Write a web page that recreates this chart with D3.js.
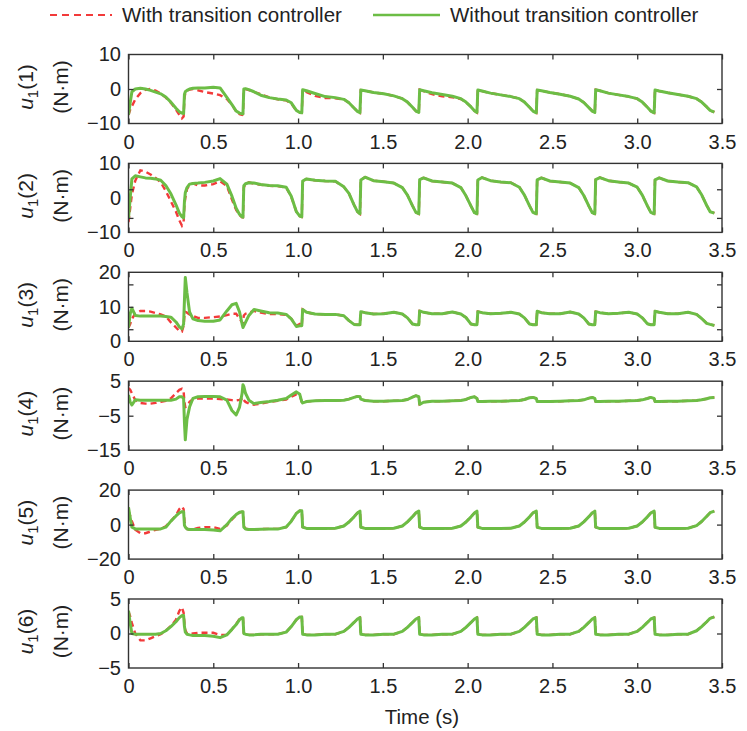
<!DOCTYPE html>
<html>
<head>
<meta charset="utf-8">
<script src="https://cdn.jsdelivr.net/npm/d3@7"></script>
<style>
  body { margin: 0; background: #fff; }
  svg { display: block; }
  text { font-family: "Liberation Sans", Arial, sans-serif; }
</style>
</head>
<body>
<div id="chart"></div>
<script>
// time samples (s), shared by every series
const time = [0, 0.01, 0.02, 0.04, 0.07, 0.10, 0.13, 0.16, 0.19, 0.22,
  0.25, 0.28, 0.30, 0.315, 0.325, 0.33, 0.335, 0.345, 0.36, 0.38,
  0.41, 0.45, 0.50, 0.54, 0.58, 0.61, 0.635, 0.655, 0.67, 0.675,
  0.68, 0.69, 0.71, 0.74, 0.78, 0.83, 0.88, 0.93, 0.96, 0.99,
  1.01,
  1.022, 1.027, 1.05, 1.10, 1.16, 1.22, 1.27, 1.30, 1.33, 1.35,
  1.365, 1.37, 1.395, 1.445, 1.505, 1.565, 1.615, 1.645, 1.675, 1.695,
  1.712, 1.717, 1.74, 1.79, 1.85, 1.91, 1.96, 1.99, 2.02, 2.04,
  2.055, 2.06, 2.085, 2.135, 2.195, 2.255, 2.305, 2.335, 2.365, 2.385,
  2.405, 2.41, 2.435, 2.485, 2.545, 2.605, 2.655, 2.685, 2.715, 2.735,
  2.75, 2.755, 2.78, 2.83, 2.89, 2.95, 3.00, 3.03, 3.06, 3.08,
  3.10, 3.105, 3.13, 3.18, 3.24, 3.30, 3.35, 3.38, 3.41, 3.43,
  3.455];

// u1(1)
const withoutP1 = [-7.5, -4, -0.8, 0, 0.2, 0, -0.4, -0.9, -1.4, -2.3,
  -3.8, -5.6, -6.6, -7, -7.1, -1.5, -0.8, -0.4, 0, 0.2,
  0.3, 0.3, 0.5, 0.3, -2.4, -4.5, -6.4, -7, -7.2, -7.2,
  0, 0.1, -0.2, -0.8, -1.8, -2.5, -2.9, -3.2, -4, -6.2,
  -6.8,
  -6.9, -0.2, -0.5, -1.3, -2.2, -2.5, -3.0, -4.0, -5.5, -6.5,
  -6.9, -0.3, -0.5, -1.0, -1.4, -2.0, -2.8, -3.8, -5.3, -6.4,
  -6.8, -0.2, -0.5, -1.1, -1.6, -2.1, -2.8, -3.8, -5.2, -6.3,
  -6.8, -0.3, -0.6, -1.2, -1.7, -2.2, -2.8, -3.8, -5.3, -6.4,
  -6.9, -0.3, -0.5, -1.0, -1.5, -2.1, -2.9, -3.9, -5.4, -6.4,
  -6.8, -0.2, -0.5, -1.2, -1.7, -2.2, -2.8, -3.8, -5.3, -6.4,
  -6.9, -0.3, -0.6, -1.1, -1.6, -2.1, -2.8, -3.8, -5.2, -6.2,
  -6.7];
const withP1 = [-7.5, -6, -5, -3, -1.2, -0.2, 0, -0.5, -1.3, -2.5,
  -4, -6, -7.5, -8.5, -8, -2.5, -1.3, -0.5, -0.2, 0,
  -0.4, -0.9, -1.3, -1.8, -2.9, -4.6, -6.5, -7.3, -7.5, -7.3,
  -0.5, 0, -0.3, -0.9, -1.5, -2.4, -3, -3.3, -4.2, -6.3,
  -6.8,
  -6.9, -0.3, -0.9, -2.0, -2.6, -2.7, -3.0, -4.0, -5.5, -6.5,
  -6.9, -0.3, -0.5, -1.0, -1.4, -2.0, -2.8, -3.8, -5.3, -6.4,
  -6.8, -0.2, -0.6, -1.5, -2.1, -2.4, -2.9, -3.8, -5.2, -6.3,
  -6.8, -0.3, -0.6, -1.2, -1.7, -2.2, -2.8, -3.8, -5.3, -6.4,
  -6.9, -0.3, -0.5, -1.0, -1.5, -2.1, -2.9, -3.9, -5.4, -6.4,
  -6.8, -0.2, -0.5, -1.2, -1.7, -2.2, -2.8, -3.8, -5.3, -6.4,
  -6.9, -0.3, -0.6, -1.1, -1.6, -2.1, -2.8, -3.8, -5.2, -6.2,
  -6.7];

// u1(2)
const withoutP2 = [-6, 0, 5.5, 6.4, 6.1, 5.8, 5.7, 5.5, 5.1, 3.6,
  1.2, -2, -4.4, -5.4, -5.8, -1, 1.5, 3, 4, 4.2,
  4.3, 4.5, 4.9, 5.6, 4, 0.5, -3, -4.8, -5.5, -5.6,
  3.5, 4.1, 4.4, 4.3, 3.9, 3.6, 3.5, 3.1, 0.5, -4,
  -5.3,
  -5.5, 4.9, 5.5, 5.1, 4.9, 4.8, 3.2, 1.3, -2, -4,
  -4.6, 5.2, 6, 5, 4.7, 4.3, 3, 0.8, -2.3, -4.2,
  -4.6, 5.3, 5.8, 4.9, 4.6, 4.3, 3, 0.6, -2.4, -4.3,
  -4.6, 5.2, 5.9, 5, 4.6, 4.4, 3.1, 0.8, -2.3, -4.2,
  -4.6, 5.2, 5.8, 4.9, 4.6, 4.3, 3, 0.7, -2.4, -4.3,
  -4.6, 5.3, 5.9, 5, 4.6, 4.3, 3.1, 0.8, -2.3, -4.2,
  -4.6, 5.2, 5.8, 4.9, 4.6, 4.4, 3.2, 0.9, -2.2, -4,
  -4.4];
const withP2 = [-7, -3, 1, 5, 8, 7.6, 6.8, 5.8, 4.5, 2,
  -1, -4, -6.5, -8, -7, -2, 0, 2.5, 3.8, 4.2,
  3.6, 3.6, 4, 4.8, 3.5, -0.5, -3.5, -5, -5.6, -5.6,
  3, 4, 4.5, 4.1, 3.8, 3.5, 3.4, 3, 0.3, -4,
  -5.3,
  -5.5, 4.9, 5.5, 5.1, 4.9, 4.8, 3.2, 1.3, -2, -4,
  -4.6, 5.2, 6, 5, 4.7, 4.3, 3, 0.8, -2.3, -4.2,
  -4.6, 5.3, 5.8, 4.9, 4.6, 4.3, 3, 0.6, -2.4, -4.3,
  -4.6, 5.2, 5.9, 5, 4.6, 4.4, 3.1, 0.8, -2.3, -4.2,
  -4.6, 5.2, 5.8, 4.9, 4.6, 4.3, 3, 0.7, -2.4, -4.3,
  -4.6, 5.3, 5.9, 5, 4.6, 4.3, 3.1, 0.8, -2.3, -4.2,
  -4.6, 5.2, 5.8, 4.9, 4.6, 4.4, 3.2, 0.9, -2.2, -4,
  -4.4];

// u1(3)
const withoutP3 = [4, 8, 9.6, 7.5, 7.3, 7.3, 7.3, 7.3, 7.3, 7.2,
  7, 5.6, 4.2, 3.6, 5, 12, 18.5, 14, 8.5, 6.5,
  6, 5.8, 5.8, 6.2, 8.8, 10.6, 11, 8.5, 5, 4,
  4.5, 5.5, 7.5, 9.2, 8.8, 8.3, 8.2, 7.8, 6.5, 4.3,
  4.5,
  4.5, 9.2, 8.4, 7.9, 7.8, 7.8, 7.4, 6, 4.9, 4.8,
  4.8, 8.6, 8.3, 7.9, 8, 8.4, 7.9, 6.8, 5, 4.8,
  4.8, 8.8, 8.4, 8, 8, 8.5, 7.9, 6.9, 5, 4.8,
  4.8, 8.6, 8.3, 8, 8.1, 8.4, 7.9, 6.8, 5, 4.8,
  4.8, 8.7, 8.3, 8, 8, 8.5, 7.9, 6.8, 5, 4.8,
  4.8, 8.6, 8.3, 8, 8.1, 8.4, 7.9, 6.8, 5.1, 4.8,
  4.8, 8.7, 8.4, 8, 8, 8.4, 7.8, 6.6, 5.2, 4.9,
  4.6];
const withP3 = [4, 5, 6.5, 8, 8.8, 8.8, 8.6, 8.2, 7.8, 7.2,
  5.5, 4, 3, 2.8, 4.5, 7.5, 8.5, 8.3, 7.8, 7.3,
  6.8, 6.8, 7, 7.2, 7.6, 8, 8, 6.5, 5.5, 5.2,
  7.5, 8, 8.3, 8.8, 8.3, 7.9, 7.9, 7.7, 6.5, 4.5,
  5,
  4.5, 9.2, 8.4, 7.9, 7.8, 7.8, 7.4, 6, 4.9, 4.8,
  4.8, 8.6, 8.3, 7.9, 8, 8.4, 7.9, 6.8, 5, 4.8,
  4.8, 8.8, 8.4, 8, 8, 8.5, 7.9, 6.9, 5, 4.8,
  4.8, 8.6, 8.3, 8, 8.1, 8.4, 7.9, 6.8, 5, 4.8,
  4.8, 8.7, 8.3, 8, 8, 8.5, 7.9, 6.8, 5, 4.8,
  4.8, 8.6, 8.3, 8, 8.1, 8.4, 7.9, 6.8, 5.1, 4.8,
  4.8, 8.7, 8.4, 8, 8, 8.4, 7.8, 6.6, 5.2, 4.9,
  4.6];

// u1(4)
const withoutP4 = [1, -1, -1.9, -0.4, -0.5, -0.5, -0.5, -0.5, -0.5, -0.5,
  -0.5, -0.2, 0.5, 0.5, 0, -7, -12, -6, -2.5, 0,
  0.5, 0.6, 0.6, 0.5, -0.5, -3.5, -4.8, -2.5, 1.5, 4,
  3.5, 1.5, -0.5, -1.5, -1.2, -0.9, -0.5, 0, 1, 1.9,
  1.2,
  -1.0, -1.3, -0.9, -0.7, -0.6, -0.6, -0.5, -0.2, 0.3, 0.6,
  0.5, -0.2, -0.6, -0.8, -0.8, -0.7, -0.6, -0.3, 0.4, 0.8,
  0.5, -1.7, -1.1, -0.8, -0.8, -0.7, -0.6, -0.3, 0.3, 0.5,
  0, -0.9, -0.9, -0.8, -0.8, -0.7, -0.6, -0.3, 0.2, 0.3,
  0, -0.9, -0.9, -0.9, -0.8, -0.7, -0.6, -0.4, 0.1, 0.3,
  0, -0.9, -0.9, -0.8, -0.8, -0.7, -0.6, -0.4, 0, 0.3,
  0, -0.9, -0.9, -0.8, -0.8, -0.7, -0.6, -0.4, -0.1, 0.2,
  0.3];
const withP4 = [3, 2.5, 1.5, -0.5, -1.3, -1.5, -1.5, -1.3, -1, -0.7,
  0, 1.5, 2.5, 2.8, 2, -1, -2.5, -2.2, -1, -0.2,
  0, 0, 0, -0.2, -0.3, -0.5, -0.6, -0.4, 0, 0.3,
  -0.5, -1, -1.5, -1.8, -1.5, -1, -0.7, -0.3, 0.5, 1.2,
  0.8,
  -1.0, -1.3, -0.9, -0.7, -0.6, -0.6, -0.5, -0.2, 0.3, 0.6,
  0.5, -0.2, -0.6, -0.8, -0.8, -0.7, -0.6, -0.3, 0.4, 0.8,
  0.5, -1.7, -1.1, -0.8, -0.8, -0.7, -0.6, -0.3, 0.3, 0.5,
  0, -0.9, -0.9, -0.8, -0.8, -0.7, -0.6, -0.3, 0.2, 0.3,
  0, -0.9, -0.9, -0.9, -0.8, -0.7, -0.6, -0.4, 0.1, 0.3,
  0, -0.9, -0.9, -0.8, -0.8, -0.7, -0.6, -0.4, 0, 0.3,
  0, -0.9, -0.9, -0.8, -0.8, -0.7, -0.6, -0.4, -0.1, 0.2,
  0.3];

// u1(5)
const withoutP5 = [10, 4, -1.5, -2.5, -2.6, -2.6, -2.6, -2.6, -2.5, -1.5,
  2, 5, 6.8, 7.5, 7.5, -0.5, -1.5, -2.5, -2.8, -2.8,
  -2.8, -2.8, -3.2, -3.6, 0, 3.5, 5.8, 7.2, 7.5, 7.5,
  -1.5, -2.5, -2.8, -2.8, -2.7, -2.6, -2.6, -1.4, 2, 6.5,
  8,
  8, -1.5, -2.2, -2.2, -2.2, -2.1, -0.8, 1.5, 4.5, 6.8,
  7.8, -1.5, -2.2, -2.3, -2.2, -2.1, -0.8, 1.6, 4.6, 6.8,
  7.8, -1.5, -2.3, -2.3, -2.2, -2.1, -0.8, 1.5, 4.5, 6.7,
  7.8, -1.5, -2.2, -2.3, -2.2, -2.1, -0.8, 1.5, 4.5, 6.8,
  7.8, -1.5, -2.2, -2.3, -2.2, -2.1, -0.8, 1.6, 4.6, 6.8,
  7.8, -1.5, -2.3, -2.3, -2.2, -2.1, -0.8, 1.5, 4.5, 6.7,
  7.8, -1.5, -2.2, -2.3, -2.2, -2.1, -0.6, 1.8, 4.8, 6.9,
  7.8];
const withP5 = [8, 5, 2, -3, -5, -5, -4, -3, -2.5, -1,
  2, 5.5, 9, 10.5, 9, 2, -1, -2.5, -3, -2.8,
  -2, -1.5, -1.5, -2.5, -0.5, 3, 5.5, 7, 7.5, 7.3,
  -1, -2.3, -2.8, -2.8, -2.6, -2.5, -2.5, -1.5, 2, 6.5,
  8,
  8, -1.5, -2.2, -2.2, -2.2, -2.1, -0.8, 1.5, 4.5, 6.8,
  7.8, -1.5, -2.2, -2.3, -2.2, -2.1, -0.8, 1.6, 4.6, 6.8,
  7.8, -1.5, -2.3, -2.3, -2.2, -2.1, -0.8, 1.5, 4.5, 6.7,
  7.8, -1.5, -2.2, -2.3, -2.2, -2.1, -0.8, 1.5, 4.5, 6.8,
  7.8, -1.5, -2.2, -2.3, -2.2, -2.1, -0.8, 1.6, 4.6, 6.8,
  7.8, -1.5, -2.3, -2.3, -2.2, -2.1, -0.8, 1.5, 4.5, 6.7,
  7.8, -1.5, -2.2, -2.3, -2.2, -2.1, -0.6, 1.8, 4.8, 6.9,
  7.8];

// u1(6)
const withoutP6 = [3.3, 1.5, 0, -0.1, -0.1, -0.1, -0.1, -0.1, 0, 0.4,
  1, 1.7, 2.3, 2.6, 2.6, 1, 0.2, -0.1, -0.2, -0.3,
  -0.3, -0.3, -0.4, -0.6, -0.2, 0.6, 1.3, 2, 2.3, 2.3,
  0, -0.1, -0.2, -0.2, -0.1, -0.1, -0.1, 0.2, 1, 2,
  2.4,
  2.4, -0.1, -0.2, -0.2, -0.1, -0.1, 0.3, 0.9, 1.6, 2.1,
  2.3, -0.1, -0.2, -0.2, -0.1, -0.1, 0.3, 0.9, 1.6, 2.1,
  2.3, -0.1, -0.2, -0.2, -0.1, -0.1, 0.3, 0.9, 1.6, 2.1,
  2.3, -0.1, -0.2, -0.2, -0.1, -0.1, 0.3, 0.9, 1.6, 2.1,
  2.3, -0.1, -0.2, -0.2, -0.1, -0.1, 0.3, 0.9, 1.6, 2.1,
  2.3, -0.1, -0.2, -0.2, -0.1, -0.1, 0.3, 0.9, 1.6, 2.1,
  2.3, -0.1, -0.2, -0.2, -0.1, -0.1, 0.4, 1.0, 1.7, 2.2,
  2.4];
const withP6 = [3.2, 2.5, 1.5, 0, -1, -1, -0.7, -0.4, -0.1, 0.4,
  1.1, 2, 3.3, 3.8, 3, 1.5, 0.5, 0, -0.1, 0,
  0.1, 0.1, 0.1, -0.2, -0.2, 0.6, 1.4, 2.1, 2.3, 2.3,
  0.1, -0.1, -0.2, -0.2, -0.1, -0.1, -0.1, 0.2, 1, 2,
  2.4,
  2.4, -0.1, -0.2, -0.2, -0.1, -0.1, 0.3, 0.9, 1.6, 2.1,
  2.3, -0.1, -0.2, -0.2, -0.1, -0.1, 0.3, 0.9, 1.6, 2.1,
  2.3, -0.1, -0.2, -0.2, -0.1, -0.1, 0.3, 0.9, 1.6, 2.1,
  2.3, -0.1, -0.2, -0.2, -0.1, -0.1, 0.3, 0.9, 1.6, 2.1,
  2.3, -0.1, -0.2, -0.2, -0.1, -0.1, 0.3, 0.9, 1.6, 2.1,
  2.3, -0.1, -0.2, -0.2, -0.1, -0.1, 0.3, 0.9, 1.6, 2.1,
  2.3, -0.1, -0.2, -0.2, -0.1, -0.1, 0.4, 1.0, 1.7, 2.2,
  2.4];

const panelIndex = ["1", "2", "3", "4", "5", "6"];
const yDomains = [[-10, 10], [-10, 10], [0, 20], [-15, 5], [-20, 20], [-5, 5]];
const yTickLabels = [[-10, 0, 10], [-10, 0, 10], [0, 10, 20], [-15, -5, 5], [-20, 0, 20], [-5, 0, 5]];
const yTickMarks = [[0], [-5.8, 2.5], [3.5, 10, 16.5], [-5], [0], [0]];
const xTicks = [0, 0.5, 1.0, 1.5, 2.0, 2.5, 3.0, 3.5];
const withSeries = [withP1, withP2, withP3, withP4, withP5, withP6];
const withoutSeries = [withoutP1, withoutP2, withoutP3, withoutP4, withoutP5, withoutP6];
const legendLabels = ["With transition controller", "Without transition controller"];

const width = 747, height = 731;
const left = 128.5, right = 722;
const firstTop = 54.5, step = 108.9, panelH = 69;
const red = "#f23a3a", green = "#6cbd45", ink = "#222", frame = "#333";

const svg = d3.select("#chart").append("svg")
  .attr("width", width)
  .attr("height", height);

svg.append("rect").attr("width", width).attr("height", height).attr("fill", "#fff");

const x = d3.scaleLinear().domain([0, 3.5]).range([left, right]);
const fmtX = d => d === 0 ? "0" : d3.format(".1f")(d);
const fmtY = d3.format("d");

function styleAxis(sel) {
  sel.select(".domain").remove();
  sel.selectAll(".tick line").attr("stroke", frame).attr("stroke-width", 1.3);
  sel.selectAll(".tick text").attr("fill", ink);
  sel.attr("font-size", 20).attr("font-family", '"Liberation Sans", Arial, sans-serif');
}

panelIndex.forEach((name, i) => {
  const top = firstTop + i * step;
  const bottom = top + panelH;
  const y = d3.scaleLinear().domain(yDomains[i]).range([bottom, top]);
  const g = svg.append("g");

  g.append("clipPath").attr("id", "clip" + i)
    .append("rect").attr("x", left).attr("y", top)
    .attr("width", right - left).attr("height", panelH);

  const line = d3.line().x(d => x(d[0])).y(d => y(d[1]));
  const plot = g.append("g").attr("clip-path", `url(#clip${i})`);

  plot.append("path")
    .attr("d", line(time.map((t, k) => [t, withSeries[i][k]])))
    .attr("fill", "none")
    .attr("stroke", red)
    .attr("stroke-width", 2.4)
    .attr("stroke-dasharray", "6,4");

  plot.append("path")
    .attr("d", line(time.map((t, k) => [t, withoutSeries[i][k]])))
    .attr("fill", "none")
    .attr("stroke", green)
    .attr("stroke-width", 3)
    .attr("stroke-linejoin", "round");

  // x ticks (inward) with labels below, and plain ticks on top
  g.append("g").attr("transform", `translate(0,${bottom})`)
    .call(d3.axisBottom(x).tickValues(xTicks).tickSizeInner(-5).tickSizeOuter(0)
      .tickPadding(10.8).tickFormat(fmtX))
    .call(styleAxis);
  g.append("g").attr("transform", `translate(0,${top})`)
    .call(d3.axisTop(x).tickValues(xTicks).tickSizeInner(-5).tickSizeOuter(0).tickFormat(""))
    .call(styleAxis);

  // y labels and inward tick marks
  g.append("g").attr("transform", `translate(${left},0)`)
    .call(d3.axisLeft(y).tickValues(yTickLabels[i]).tickSize(0).tickPadding(7.5).tickFormat(fmtY))
    .call(styleAxis);
  g.append("g").attr("transform", `translate(${left},0)`)
    .call(d3.axisLeft(y).tickValues(yTickMarks[i]).tickSizeInner(-5).tickSizeOuter(0).tickFormat(""))
    .call(styleAxis);
  g.append("g").attr("transform", `translate(${right},0)`)
    .call(d3.axisRight(y).tickValues(yTickMarks[i]).tickSizeInner(-5).tickSizeOuter(0).tickFormat(""))
    .call(styleAxis);

  g.append("rect")
    .attr("x", left).attr("y", top)
    .attr("width", right - left).attr("height", panelH)
    .attr("fill", "none").attr("stroke", frame).attr("stroke-width", 1.4);

  // y titles
  const cy = top + panelH / 2 - 2;
  const t1 = g.append("text")
    .attr("transform", `translate(33,${cy}) rotate(-90)`)
    .attr("text-anchor", "middle")
    .attr("font-size", 21)
    .attr("fill", ink);
  t1.append("tspan").attr("font-style", "italic").text("u");
  t1.append("tspan").attr("dy", 5).attr("font-size", 15).text("1");
  t1.append("tspan").attr("dy", -5).text(`(${name})`);

  g.append("text")
    .attr("transform", `translate(68,${cy}) rotate(-90)`)
    .attr("text-anchor", "middle")
    .attr("font-size", 21)
    .attr("fill", ink)
    .text("(N·m)");
});

// x title
svg.append("text")
  .attr("x", 422).attr("y", 724)
  .attr("text-anchor", "middle")
  .attr("font-size", 20.5)
  .attr("fill", ink)
  .text("Time (s)");

// legend
const legend = svg.append("g");
legend.append("line")
  .attr("x1", 50).attr("x2", 112).attr("y1", 15).attr("y2", 15)
  .attr("stroke", red).attr("stroke-width", 2).attr("stroke-dasharray", "7,5");
legend.append("text")
  .attr("x", 122).attr("y", 22)
  .attr("font-size", 20.5).attr("fill", ink)
  .text(legendLabels[0]);
legend.append("line")
  .attr("x1", 373).attr("x2", 440).attr("y1", 15).attr("y2", 15)
  .attr("stroke", green).attr("stroke-width", 2.5);
legend.append("text")
  .attr("x", 450).attr("y", 22)
  .attr("font-size", 20.5).attr("fill", ink)
  .text(legendLabels[1]);
</script>
</body>
</html>
